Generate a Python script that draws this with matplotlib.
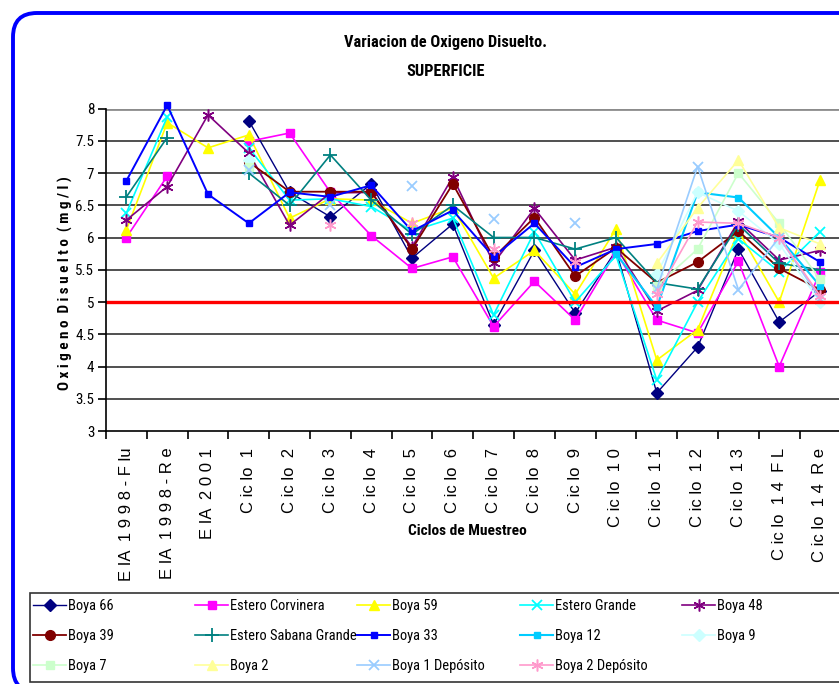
import numpy as np
import matplotlib
matplotlib.use("Agg")
import matplotlib.pyplot as plt
from matplotlib import font_manager as fm
from matplotlib.patches import FancyBboxPatch, Rectangle
from matplotlib.transforms import IdentityTransform

nan = np.nan

# ---------------- data ----------------
categories = ["E IA  1 9 9 8 - F lu", "E IA  1 9 9 8 - R e", "E IA  2 0 0 1",
              "C ic lo  1", "C ic lo  2", "C ic lo  3", "C ic lo  4", "C ic lo  5",
              "C ic lo  6", "C ic lo  7", "C ic lo  8", "C ic lo  9", "C ic lo  1 0",
              "C ic lo  1 1", "C ic lo  1 2", "C ic lo  1 3", "C ic lo  1 4  F L",
              "C ic lo  1 4  R e"]
y_ticks = [3, 3.5, 4, 4.5, 5, 5.5, 6, 6.5, 7, 7.5, 8]
y_tick_labels = ["3", "3.5", "4", "4.5", "5", "5.5", "6", "6.5", "7", "7.5", "8"]
limit_value = 5

boya_66 = [nan, nan, nan, 7.81, 6.70, 6.32, 6.83, 5.68, 6.21, 4.65, 5.80, 4.83, 5.80, 3.59, 4.30, 5.82, 4.69, 5.17]
estero_corvinera = [6.00, 6.95, nan, 7.49, 7.62, 6.70, 6.03, 5.52, 5.70, 4.62, 5.32, 4.72, 5.78, 4.72, 4.52, 5.63, 4.00, 5.46]
boya_59 = [6.12, 7.78, 7.39, 7.59, 6.30, 6.60, 6.58, 6.22, 6.46, 5.37, 5.80, 5.12, 6.13, 4.10, 4.57, 6.10, 5.00, 6.89]
estero_grande = [6.38, 7.87, nan, 7.39, 6.58, 6.60, 6.48, 6.10, 6.30, 4.80, 6.09, 5.00, 5.72, 3.79, 5.00, 5.98, 5.47, 6.09]
boya_48 = [6.27, 6.79, 7.90, 7.31, 6.19, 6.69, 6.70, 5.85, 6.94, 5.60, 6.45, 5.65, 5.85, 4.86, 5.18, 6.25, 5.65, 5.80]
boya_39 = [nan, nan, nan, 7.17, 6.71, 6.71, 6.71, 5.82, 6.83, 5.69, 6.31, 5.40, 5.84, 5.30, 5.62, 6.10, 5.52, 5.19]
estero_sabana_grande = [6.63, 7.55, nan, 7.00, 6.50, 7.28, 6.58, 6.05, 6.50, 6.00, 6.00, 5.82, 6.00, 5.30, 5.20, 6.20, 5.60, 5.50]
boya_33 = [6.88, 8.05, 6.67, 6.22, 6.70, 6.63, 6.81, 6.10, 6.42, 5.70, 6.22, 5.54, 5.82, 5.90, 6.10, 6.20, 6.00, 5.62]
boya_12 = [nan, nan, nan, nan, nan, nan, nan, nan, nan, nan, nan, nan, 5.75, 4.92, 6.70, 6.62, 6.00, 5.25]
boya_9 = [nan, nan, nan, 7.20, nan, nan, nan, nan, nan, nan, nan, nan, nan, 5.43, 6.70, 6.41, 5.90, 5.00]
boya_7 = [nan, nan, nan, 7.10, nan, nan, nan, nan, nan, nan, nan, nan, nan, 5.25, 5.82, 7.00, 6.22, 5.35]
boya_2 = [nan, nan, nan, nan, nan, nan, nan, nan, nan, nan, nan, nan, nan, 5.60, 6.46, 7.20, 6.15, 5.90]
boya_1_deposito = [nan, nan, nan, 7.05, nan, 6.50, nan, 6.80, nan, 6.28, nan, 6.22, nan, 5.20, 7.10, 5.19, 6.00, 5.05]
boya_2_deposito = [nan, nan, nan, nan, nan, 6.19, nan, 6.22, nan, 5.82, nan, 5.62, nan, 5.12, 6.24, 6.22, 6.00, 5.10]

series_names = ["Boya 66", "Estero Corvinera", "Boya 59", "Estero Grande", "Boya 48",
                "Boya 39", "Estero Sabana Grande", "Boya 33", "Boya 12", "Boya 9",
                "Boya 7", "Boya 2", "Boya 1 Depósito", "Boya 2 Depósito"]
series_values = [boya_66, estero_corvinera, boya_59, estero_grande, boya_48,
                 boya_39, estero_sabana_grande, boya_33, boya_12, boya_9,
                 boya_7, boya_2, boya_1_deposito, boya_2_deposito]

# ---------------- styles ----------------
ASTER = (6, 2, 0)
styles = [
    dict(color="#000080", marker="D", ms=6, lw=1.0),
    dict(color="#FF00FF", marker="s", ms=6, lw=1.2),
    dict(color="#FFFF00", marker="^", ms=7, lw=1.2),
    dict(color="#00FFFF", marker="x", ms=7, lw=1.2, mew=1.3),
    dict(color="#800080", marker=ASTER, ms=8.5, lw=1.2, mew=1.1),
    dict(color="#800000", marker="o", ms=7, lw=1.3),
    dict(color="#008080", marker="+", ms=9.5, lw=1.2, mew=1.3),
    dict(color="#0000FF", marker="s", ms=4, lw=1.4),
    dict(color="#00CCFF", marker="s", ms=4, lw=1.5),
    dict(color="#CCFFFF", marker="D", ms=6, lw=1.2),
    dict(color="#CCFFCC", marker="s", ms=6, lw=1.2),
    dict(color="#FFFF99", marker="^", ms=7, lw=1.2),
    dict(color="#99CCFF", marker="x", ms=7, lw=1.2, mew=1.3),
    dict(color="#FF99CC", marker=ASTER, ms=8.5, lw=1.2, mew=1.1),
]

# ---------------- fonts ----------------
available = {f.name for f in fm.fontManager.ttflist}
NARROW = "Liberation Sans"
for cand in ["Liberation Sans Narrow", "Arial Narrow", "Roboto Condensed",
             "Open Sans Condensed"]:
    if cand in available:
        NARROW = cand
        break
REG = "Liberation Sans"

W, H = 839, 684
fig = plt.figure(figsize=(W / 100, H / 100), dpi=100)
renderer = fig.canvas.get_renderer()


def fit_size(text, family, weight, target_px, base=10.0):
    t = fig.text(0, 0, text, fontfamily=family, fontweight=weight, fontsize=base)
    w = t.get_window_extent(renderer).width
    t.remove()
    return base * target_px / w


def fx(px):
    return px / W


def fy(py):
    return 1 - py / H


# outer rounded blue frame (pixels)
frame = FancyBboxPatch((13, -8), 900, 684 + 8 - 13,
                       boxstyle="round,pad=0,rounding_size=24",
                       transform=IdentityTransform(), facecolor="none",
                       edgecolor="#0000FF", linewidth=2.8, zorder=0)
fig.add_artist(frame)

# axes
y_top_px, y_bot_px = 108.5, 431
x_left_px, x_right_px = 106, 840.4
ax = fig.add_axes([fx(x_left_px), fy(y_bot_px), (x_right_px - x_left_px) / W,
                   (y_bot_px - y_top_px) / H])
ax.set_facecolor("none")
n = len(categories)
x = np.arange(n)
ax.set_xlim(-0.5, n - 0.5)
ax.set_ylim(3, 8)

for v in y_ticks[1:]:
    if v == 8:
        ax.axhline(v, color="#8c8c8c", lw=2.0, zorder=1)
    else:
        ax.axhline(v, color="#202020", lw=1.1, zorder=1)

lines = []
for name, vals, st in zip(series_names, series_values, styles):
    st = dict(st)
    color = st.pop("color")
    ln, = ax.plot(x, vals, color=color, mfc=color, mec=color, label=name,
                  clip_on=False, zorder=3, **st)
    lines.append(ln)

ax.axhline(limit_value, color="#FF0000", lw=2.4, zorder=4)

for s in ["top", "right"]:
    ax.spines[s].set_visible(False)
for s in ["left", "bottom"]:
    ax.spines[s].set_color("black")
    ax.spines[s].set_linewidth(1.2)
    ax.spines[s].set_zorder(5)

ytick_fs = fit_size("7.5", NARROW, "normal", 19)
ax.set_yticks(y_ticks)
ax.set_yticklabels(y_tick_labels, fontfamily=NARROW, fontsize=ytick_fs)
ax.tick_params(axis="y", direction="out", length=6, width=1.2, pad=2.5, color="black")

ax.set_xticks(x)
ax.set_xticklabels(categories, rotation=90, fontfamily=REG, fontsize=12,
                   va="top", ha="center")
ax.set_xticks(np.arange(-0.5, n, 1.0), minor=True)
ax.tick_params(axis="x", which="major", length=0, pad=12)
ax.tick_params(axis="x", which="minor", direction="out", length=6, width=1.2, color="black")

# titles and axis labels
title_fs = fit_size("Variacion de Oxigeno Disuelto.", NARROW, "bold", 203)
fig.text(fx(446), fy(43), "Variacion de Oxigeno Disuelto.", ha="center", va="center",
         fontfamily=NARROW, fontweight="bold", fontsize=title_fs)
fig.text(fx(446), fy(71), "SUPERFICIE", ha="center", va="center",
         fontfamily=NARROW, fontweight="bold", fontsize=title_fs)
xl_fs = fit_size("Ciclos de Muestreo", NARROW, "bold", 119)
fig.text(fx(467), fy(531), "Ciclos de Muestreo", ha="center", va="center",
         fontfamily=NARROW, fontweight="bold", fontsize=xl_fs)
ylab = "O x i g e n o  D i s u e l t o  ( m g / l )"
yl_fs = fit_size(ylab, NARROW, "bold", 215)
fig.text(fx(65), fy(283), ylab, ha="center", va="center", rotation=90,
         fontfamily=NARROW, fontweight="bold", fontsize=yl_fs)

# legend frame
fig.add_artist(Rectangle((30, H - 682), 900, 682 - 593, transform=IdentityTransform(),
                         facecolor="white", edgecolor="#333333", lw=1.2, zorder=1))

leg_fs = fit_size("Estero Sabana Grande", NARROW, "normal", 126)
leg_px = leg_fs * 100 / 72.0
row_pitch = 29.5
label_spacing = max(0.2, row_pitch / leg_px - 0.93)
handle_len = 33.0 / leg_px
col_x = [33, 195, 357, 520, 682]
columns = [[0, 5, 10], [1, 6, 11], [2, 7, 12], [3, 8, 13], [4, 9]]
for cx, idxs in zip(col_x, columns):
    leg = fig.legend([lines[i] for i in idxs], [series_names[i] for i in idxs],
                     loc="upper left", bbox_to_anchor=(fx(cx), fy(599)),
                     bbox_transform=fig.transFigure, frameon=False, borderpad=0,
                     borderaxespad=0, handlelength=handle_len, handletextpad=0.15,
                     labelspacing=label_spacing, prop=dict(family=NARROW, size=leg_fs))
    leg.set_zorder(6)

fig.savefig("out.png", dpi=100)
